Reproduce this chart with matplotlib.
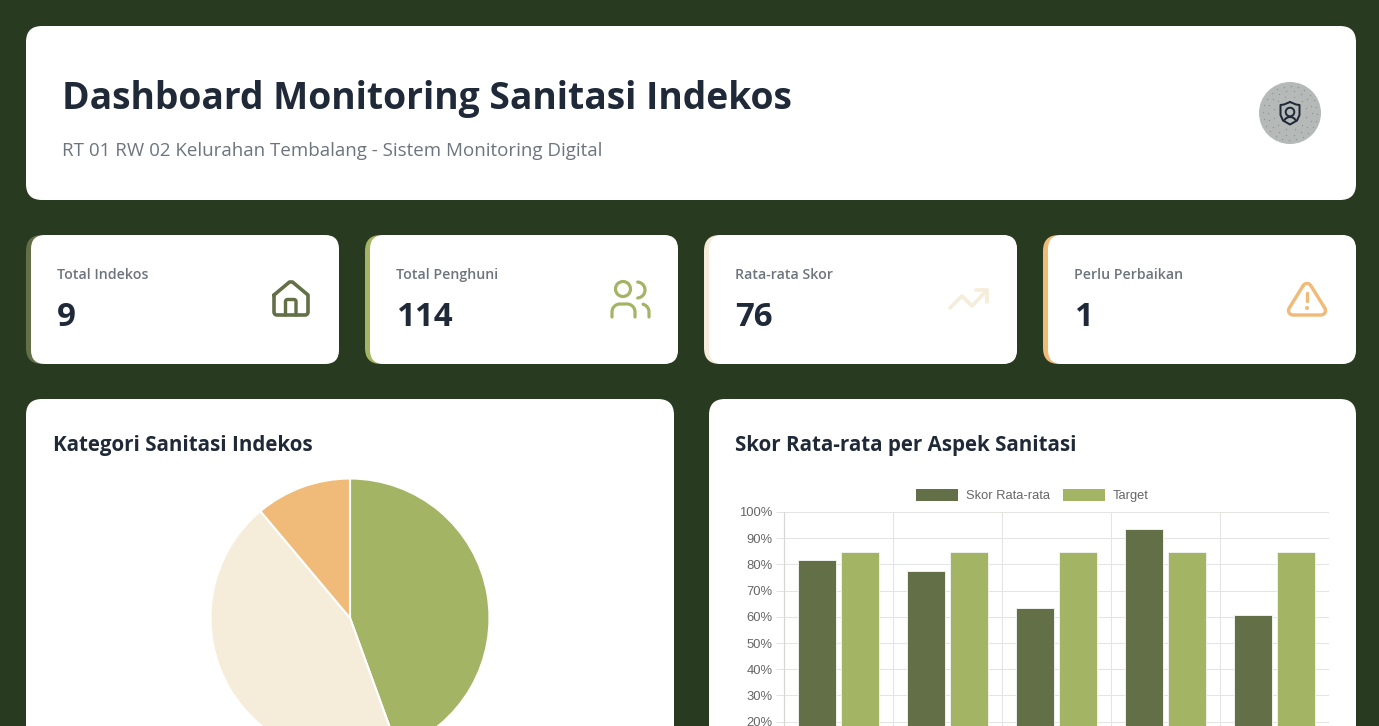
import numpy as np
import matplotlib
matplotlib.use("Agg")
import matplotlib.pyplot as plt
from matplotlib.patches import FancyBboxPatch, Circle
from matplotlib.ticker import FuncFormatter

W, H = 1379, 726
BG = "#283a1f"
DARK = "#1f2937"
GREY = "#6c757d"
OLIVE = "#636f47"
SAGE = "#a4b465"
CREAM = "#f5ecd9"
ORANGE = "#f0bb78"

stat_labels = ["Total Indekos", "Total Penghuni", "Rata-rata Skor", "Perlu Perbaikan"]
stat_values = ["9", "114", "76", "1"]
stat_colors = [OLIVE, SAGE, CREAM, ORANGE]
card_lefts = [26, 365, 704, 1043]

pie_values = [4, 4, 1]
pie_colors = [SAGE, CREAM, ORANGE]

bar_groups = [0, 1, 2, 3, 4]
skor = [81.7, 77.6, 63.5, 93.7, 60.5]
target = [84.6, 84.6, 84.6, 84.6, 84.6]
y_ticks = list(range(20, 101, 10))

FONT = "Open Sans"

fig = plt.figure(figsize=(W / 100, H / 100), dpi=100, facecolor=BG)

# whole figure as a pixel canvas for the cards
bg = fig.add_axes([0, 0, 1, 1])
bg.set_xlim(0, W)
bg.set_ylim(H, 0)
bg.axis("off")


def card(x, y, w, h, r=16, color="white", z=2):
    p = FancyBboxPatch((x + r, y + r), w - 2 * r, h - 2 * r,
                       boxstyle="round,pad=%d,rounding_size=%d" % (r, r),
                       fc=color, ec="none", zorder=z)
    bg.add_patch(p)


def stroke(xs, ys, color, lw=3.0):
    bg.plot(xs, ys, color=color, lw=lw * 0.72, solid_capstyle="round",
            solid_joinstyle="round", zorder=5)


def arc_pts(cx, cy, r, a1, a2):
    # angles are measured on screen, clockwise from 3 o'clock
    t = np.radians(np.linspace(a1, a2, 30))
    return cx + r * np.cos(t), cy + r * np.sin(t)


def arc(cx, cy, r, a1, a2, color, lw=3.0):
    xs, ys = arc_pts(cx, cy, r, a1, a2)
    stroke(xs, ys, color, lw)


# header
card(26, 26, 1330, 174)
bg.text(62, 99, "Dashboard Monitoring Sanitasi Indekos", fontsize=26.8, fontweight="bold",
        family=FONT, color=DARK, va="center", ha="left", zorder=5)
bg.text(62, 151, "RT 01 RW 02 Kelurahan Tembalang - Sistem Monitoring Digital", fontsize=13.5,
        family=FONT, color=GREY, va="center", ha="left", zorder=5)

# header badge
bg.add_patch(Circle((1290, 113), 31, fc="#b5bab8", ec="none", zorder=3))
for rad, n in zip([17, 22, 27], [12, 18, 24]):
    t = np.linspace(0, 2 * np.pi, n, endpoint=False) + rad
    bg.scatter(1290 + rad * np.cos(t), 113 + rad * np.sin(t), s=1.0, color="#8f9594", lw=0, zorder=4)
stroke([1290, 1296, 1299.5, 1299.5, 1297, 1290, 1283, 1280.5, 1280.5, 1284, 1290],
       [102, 104.5, 105, 115, 120.5, 124.5, 120.5, 115, 105, 104.5, 102], DARK, 2.0)
bg.add_patch(Circle((1290, 112), 4.3, fc="none", ec=DARK, lw=1.4, zorder=5))
arc(1290, 123.5, 6.5, 205, 335, DARK, 2.0)

# stat cards
for left, lab, val, col in zip(card_lefts, stat_labels, stat_values, stat_colors):
    card(left, 235, 313, 129, color=col)
    card(left + 5, 235, 308, 129, r=14)
    bg.text(left + 31, 275, lab, fontsize=10.2, family=FONT, fontweight="semibold", color=GREY,
            va="center", ha="left", zorder=5)
    bg.text(left + 31, 317, val, fontsize=23.8, family=FONT, fontweight="bold", color=DARK,
            va="center", ha="left", zorder=5)

# house icon
hx1, hy1 = arc_pts(305, 312, 3, 0, 90)
hx2, hy2 = arc_pts(277, 312, 3, 90, 180)
stroke(np.r_[274, 289.5, 292.5, 308, 308, hx1, hx2, 274],
       np.r_[295, 282, 282, 295, 312, hy1, hy2, 295], OLIVE, 3.6)
dx1, dy1 = arc_pts(287.5, 301.5, 2, 180, 270)
dx2, dy2 = arc_pts(294, 301.5, 2, 270, 360)
stroke(np.r_[285.5, dx1, dx2, 296], np.r_[315, dy1, dy2, 315], OLIVE, 3.4)

# people icon
bg.add_patch(Circle((623, 289), 7.5, fc="none", ec=SAGE, lw=2.3, zorder=5))
arc(637, 290, 8, -85, 85, SAGE, 3.2)
bx1, by1 = arc_pts(620, 312, 8, 180, 270)
bx2, by2 = arc_pts(627, 312, 8, 270, 360)
stroke(np.r_[612, bx1, bx2, 635], np.r_[317, by1, by2, 317], SAGE, 3.2)
cx1, cy1 = arc_pts(641, 312, 8, -75, 0)
stroke(np.r_[cx1, 649], np.r_[cy1, 317], SAGE, 3.2)

# trend icon
stroke([950, 962, 972, 987], [308, 296, 306, 290], CREAM, 3.6)
stroke([976, 987, 987], [290, 290, 302], CREAM, 3.6)

# warning icon
ax1, ay1 = arc_pts(1307, 288, 4.5, -149, -31)
ax2, ay2 = arc_pts(1321, 310.5, 4.5, -31, 90)
ax3, ay3 = arc_pts(1293, 310.5, 4.5, 90, 211)
stroke(np.r_[ax1, ax2, ax3, ax1[0]], np.r_[ay1, ay2, ay3, ay1[0]], ORANGE, 3.4)
stroke([1307, 1307], [293, 301], ORANGE, 3.4)
bg.add_patch(Circle((1307, 308), 2, fc=ORANGE, ec="none", zorder=5))

# lower cards run past the bottom of the picture
card(26, 399, 648, 400)
card(709, 399, 647, 400)
bg.text(53, 446, "Kategori Sanitasi Indekos", fontsize=14.8, fontweight="bold", family=FONT,
        color=DARK, va="center", ha="left", zorder=5)
bg.text(735, 446, "Skor Rata-rata per Aspek Sanitasi", fontsize=14.8, fontweight="bold", family=FONT,
        color=DARK, va="center", ha="left", zorder=5)

# pie, centre 350,618 radius 139.5
pie_ax = fig.add_axes([(350 - 140) / W, 1 - (618 + 140) / H, 280 / W, 280 / H])
pie_ax.pie(pie_values, colors=pie_colors, startangle=90, counterclock=False, radius=139.5 / 140,
           wedgeprops={"edgecolor": "white", "linewidth": 1.5})
pie_ax.set_xlim(-1, 1)
pie_ax.set_ylim(-1, 1)
pie_ax.patch.set_alpha(0)

# bars, plot area x 784-1329, 100% at y=512, 0% at y=774
bar_ax = fig.add_axes([784 / W, 1 - 774 / H, 545 / W, 262 / H])
bar_ax.patch.set_alpha(0)
x = np.array(bar_groups)
bar_ax.bar(x - 0.2, skor, width=0.345, color=OLIVE, edgecolor="#eef0ec", linewidth=0.7, zorder=3)
bar_ax.bar(x + 0.2, target, width=0.345, color=SAGE, edgecolor="#eef0ec", linewidth=0.7, zorder=3)
bar_ax.set_xlim(-0.5, 4.5)
bar_ax.set_ylim(0, 100)
bar_ax.set_yticks(y_ticks)
bar_ax.set_xticks(np.r_[x - 0.5, 4.5])
bar_ax.set_xticklabels([])
bar_ax.yaxis.set_major_formatter(FuncFormatter(lambda v, _: "%d%%" % v))
bar_ax.tick_params(axis="y", labelsize=9.4, labelcolor="#666666", length=6, width=0.7, color="#e3e5e3", pad=2.2)
bar_ax.tick_params(axis="x", length=0)
for lbl in bar_ax.get_yticklabels():
    lbl.set_family("Liberation Sans")
bar_ax.grid(True, color="#e3e5e3", lw=0.75, zorder=0)
for s in ["top", "right", "bottom"]:
    bar_ax.spines[s].set_visible(False)
bar_ax.spines["left"].set_color("#d5d8d5")
bar_ax.spines["left"].set_linewidth(0.9)

# legend is placed by hand on the canvas, chart.js style
bg.add_patch(plt.Rectangle((916, 488.5), 42, 12.5, fc=OLIVE, ec="none", zorder=5))
bg.text(966, 494.5, "Skor Rata-rata", fontsize=9.3, family="Liberation Sans", color="#666666",
        va="center_baseline", ha="left", zorder=5)
bg.add_patch(plt.Rectangle((1063, 488.5), 42, 12.5, fc=SAGE, ec="none", zorder=5))
bg.text(1113, 494.5, "Target", fontsize=9.3, family="Liberation Sans", color="#666666",
        va="center_baseline", ha="left", zorder=5)

fig.savefig("out.png", dpi=100, facecolor=BG)
